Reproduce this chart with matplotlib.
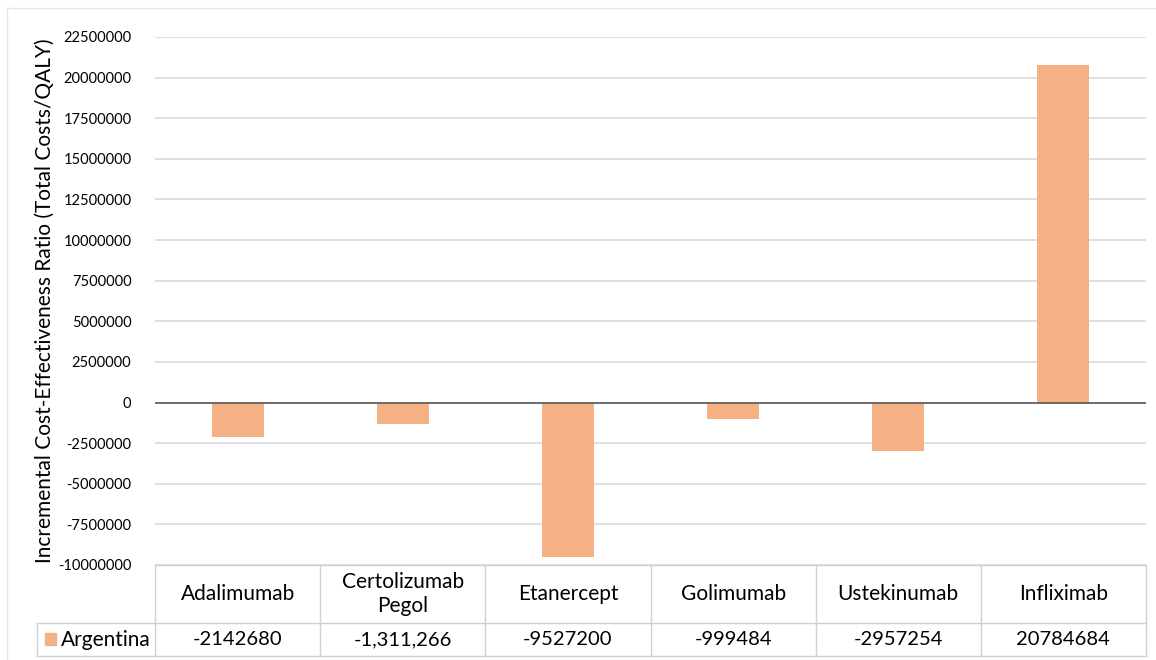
import matplotlib
matplotlib.use("Agg")
import matplotlib.pyplot as plt
from matplotlib.patches import Rectangle
from matplotlib.lines import Line2D

# Data
drugs = ["Adalimumab", "Certolizumab\nPegol", "Etanercept", "Golimumab", "Ustekinumab", "Infliximab"]
icer_argentina = [-2142680, -1311266, -9527200, -999484, -2957254, 20784684]
value_labels = ["-2142680", "-1,311,266", "-9527200", "-999484", "-2957254", "20784684"]
series_name = "Argentina"
y_ticks = list(range(-10000000, 22500001, 2500000))

plt.rcParams["font.family"] = ["Lato", "DejaVu Sans"]

W, H = 1156, 660
fig = plt.figure(figsize=(W / 100, H / 100), dpi=100)

bar_color = "#F4B183"
grid_color = "#D9D9D9"
text_color = "#000000"

# Plot area in pixel coordinates
px_left, px_right, px_top, px_bottom = 155, 1146, 37, 565
ax = fig.add_axes([px_left / W, 1 - px_bottom / H,
                   (px_right - px_left) / W, (px_bottom - px_top) / H])

x = list(range(len(drugs)))
ax.bar(x, icer_argentina, width=0.315, color=bar_color, zorder=3)
ax.set_xlim(-0.5, len(drugs) - 0.5)
ax.set_ylim(y_ticks[0], y_ticks[-1])
ax.set_yticks(y_ticks)
ax.set_yticklabels([str(v) for v in y_ticks], fontsize=10.5, color=text_color)
ax.tick_params(axis="y", length=0, pad=17)
ax.set_xticks([])
for s in ax.spines.values():
    s.set_visible(False)
ax.grid(axis="y", color=grid_color, linewidth=1.2, zorder=0)
ax.axhline(0, color="#595959", linewidth=1.2, zorder=4)
ax.set_ylabel("Incremental Cost-Effectiveness Ratio (Total Costs/QALY)",
              fontsize=15, color=text_color)
ax.yaxis.set_label_coords(-(155 - 45) / (px_right - px_left), 0.5)
ax.yaxis.label.set_va("center")

# Data table below the plot area
tbl_top, tbl_mid, tbl_bottom = 565, 623, 656
label_left = 37
col_w = (px_right - px_left) / len(drugs)
line_kw = dict(color="#D0D0D0", linewidth=1.0)

def fx(px):
    return px / W

def fy(py):
    return 1 - py / H

lines = [
    ((px_left, px_right), (tbl_top, tbl_top)),
    ((label_left, px_right), (tbl_mid, tbl_mid)),
    ((label_left, px_right), (tbl_bottom, tbl_bottom)),
    ((label_left, label_left), (tbl_mid, tbl_bottom)),
]
for i in range(len(drugs) + 1):
    xc = px_left + i * col_w
    lines.append(((xc, xc), (tbl_top, tbl_bottom)))
for (xs, ys) in lines:
    fig.add_artist(Line2D([fx(v) for v in xs], [fy(v) for v in ys],
                          transform=fig.transFigure, **line_kw))

for i, (name, lab) in enumerate(zip(drugs, value_labels)):
    xc = px_left + (i + 0.5) * col_w
    fig.text(fx(xc), fy((tbl_top + tbl_mid) / 2), name, ha="center", va="center",
             fontsize=15, color=text_color, linespacing=1.2)
    fig.text(fx(xc), fy((tbl_mid + tbl_bottom) / 2), lab, ha="center", va="center",
             fontsize=14.5, color=text_color)

# Series key in the first column
fig.add_artist(Rectangle((fx(45), fy(645)), 11 / W, 12 / H,
                         transform=fig.transFigure, color=bar_color))
fig.text(fx(61), fy((tbl_mid + tbl_bottom) / 2), series_name, ha="left", va="center",
         fontsize=15, color=text_color)

# Light chart frame
fig.add_artist(Line2D([fx(7), fx(7)], [fy(8), fy(660)], transform=fig.transFigure,
                      color="#E6E6E6", linewidth=1.0))
fig.add_artist(Line2D([fx(7), 1], [fy(8), fy(8)], transform=fig.transFigure,
                      color="#E6E6E6", linewidth=1.0))

fig.savefig("out.png", dpi=100)
